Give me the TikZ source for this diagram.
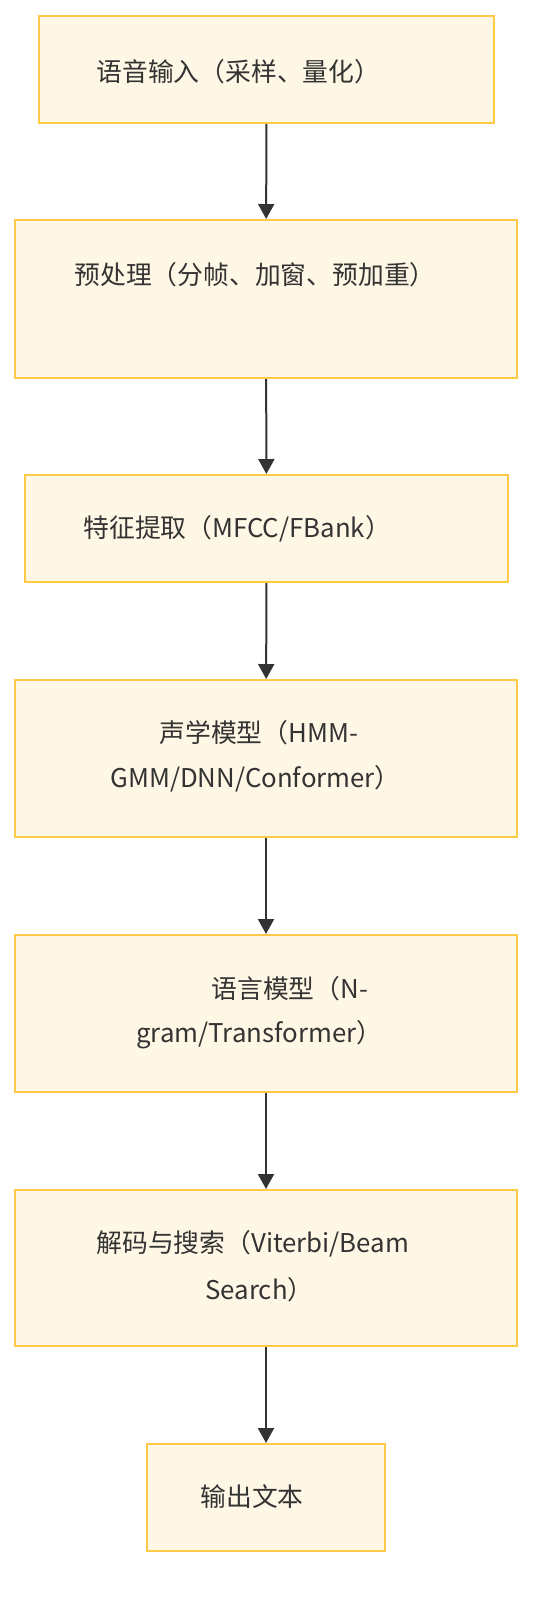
\documentclass[tikz,border=0pt]{standalone}
\usepackage{fontspec}
\setmainfont{Noto Sans CJK SC}
\usetikzlibrary{arrows.meta,positioning}
\definecolor{boxfill}{HTML}{FFF7E5}
\definecolor{boxline}{HTML}{FFCA45}
\definecolor{ink}{HTML}{333333}
\tikzset{
  stage/.style={draw=boxline, fill=boxfill, line width=1pt, inner sep=0pt},
  lbl/.style={anchor=west, inner sep=0pt, text=ink, font=\fontsize{12.9pt}{15pt}\selectfont},
  flow/.style={draw=ink, line width=1pt, -{Triangle[length=7.5pt,width=8pt]}}
}
\begin{document}
\begin{tikzpicture}[x=0.5pt, y=-0.5pt]
    \useasboundingbox (0,0) rectangle (552,1624);
    \node[stage, minimum width=227.5pt, minimum height=53.5pt] (input)  at (266.5,69.5) {};
    \node[stage, minimum width=251pt, minimum height=79pt]    (prep)   at (266,299) {};
    \node[stage, minimum width=241.5pt, minimum height=53.5pt] (feat)   at (266.5,528.5) {};
    \node[stage, minimum width=251pt, minimum height=78.5pt]  (acou)   at (266,758.5) {};
    \node[stage, minimum width=251pt, minimum height=78.5pt]  (lang)   at (266,1013.5) {};
    \node[stage, minimum width=251pt, minimum height=78pt]    (decode) at (266,1268) {};
    \node[stage, minimum width=119pt, minimum height=53.5pt]  (output) at (266,1497.5) {};

    \node[lbl] (t-input)  at (96,72)    {语音输入（采样、量化）};
    \node[lbl] (t-prep)   at (74,275)   {预处理（分帧、加窗、预加重）};
    \node[lbl] (t-feat)   at (83,529)   {特征提取（MFCC/FBank）};
    \node[lbl] (t-acou1)  at (159,733)  {声学模型（HMM-};
    \node[lbl] (t-acou2)  at (110,779)  {GMM/DNN/Conformer）};
    \node[lbl] (t-lang1)  at (211,989)  {语言模型（N-};
    \node[lbl] (t-lang2)  at (136,1035) {gram/Transformer）};
    \node[lbl] (t-dec1)   at (96,1244)  {解码与搜索（Viterbi/Beam};
    \node[lbl] (t-dec2)   at (205,1290) {Search）};
    \node[lbl] (t-output) at (200,1497) {输出文本};

    \draw[flow] (input)  -- (prep);
    \draw[flow] (prep)   -- (feat);
    \draw[flow] (feat)   -- (acou);
    \draw[flow] (acou)   -- (lang);
    \draw[flow] (lang)   -- (decode);
    \draw[flow] (decode) -- (output);
\end{tikzpicture}
\end{document}
